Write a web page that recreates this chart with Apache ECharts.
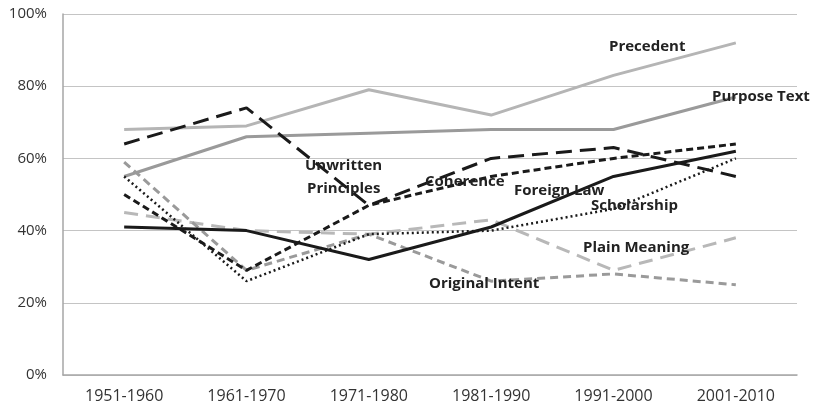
<!DOCTYPE html>
<html><head><meta charset="utf-8">
<script src="https://cdn.jsdelivr.net/npm/echarts@6/dist/echarts.min.js"></script>
<style>html,body{margin:0;padding:0;background:#fff}#c{width:814px;height:408px}</style>
</head><body><div id="c"></div>
<script>
const categories = ['1951-1960','1961-1970','1971-1980','1981-1990','1991-2000','2001-2010'];
const precedent = [68, 69, 79, 72, 83, 92];
const purposeText = [55, 66, 67, 68, 68, 77];
const unwritten = [64, 74, 47, 60, 63, 55];
const coherence = [50, 29, 47, 55, 60, 64];
const foreignLaw = [41, 40, 32, 41, 55, 62];
const scholarship = [55, 26, 39, 40, 46, 60];
const plainMeaning = [45, 40, 39, 43, 29, 38];
const originalIntent = [59, 29, 39, 26, 28, 25];
const yTicks = [0, 20, 40, 60, 80, 100];

const chart = echarts.init(document.getElementById('c'));
function s(name, data, color, width, type){
  return {name, type:'line', data, symbol:'none', silent:true,
    lineStyle:{color, width, type, cap:'butt'}, z: 2};
}
const lbl = (text, x, y) => ({type:'text', x:x, y:y, silent:true,
  style:{text, font:'bold 15px "Open Sans"', fill:'#222', verticalAlign:'middle', align:'left'}, z:10});
chart.setOption({
  animation:false,
  grid:{left:63, right:17, top:14, bottom:33},
  xAxis:{type:'category', data:categories, boundaryGap:true,
    axisLine:{lineStyle:{color:'#a6a6a6', width:1.5}}, axisTick:{show:false},
    axisLabel:{color:'#333', fontSize:16, fontFamily:'Open Sans', margin:13}},
  yAxis:{type:'value', min:0, max:100, interval:20,
    axisLine:{show:true, lineStyle:{color:'#a6a6a6', width:1.5}}, axisTick:{show:false},
    splitLine:{lineStyle:{color:'#c4c4c4', width:1.2}},
    axisLabel:{color:'#333', fontSize:15, fontFamily:'Open Sans', margin:16,
      formatter:v => yTicks.includes(v) ? v + '%' : ''}},
  series:[
    s('Precedent', precedent, '#b5b5b5', 3, 'solid'),
    s('Purpose Text', purposeText, '#9a9a9a', 3, 'solid'),
    s('Plain Meaning', plainMeaning, '#b8b8b8', 3, [14,8]),
    s('Original Intent', originalIntent, '#9a9a9a', 3, [8,5]),
    s('Unwritten Principles', unwritten, '#1a1a1a', 3, [16,8]),
    s('Coherence', coherence, '#1a1a1a', 3, [7,4]),
    s('Foreign Law', foreignLaw, '#1a1a1a', 3, 'solid'),
    s('Scholarship', scholarship, '#1a1a1a', 2.5, [2,3])
  ],
  graphic:[
    lbl('Precedent', 609, 47),
    lbl('Purpose Text', 712, 97),
    lbl('Unwritten', 305, 166),
    lbl('Principles', 307, 189),
    lbl('Coherence', 425, 182),
    lbl('Foreign Law', 514, 191),
    lbl('Scholarship', 591, 206),
    lbl('Plain Meaning', 583, 248),
    lbl('Original Intent', 429, 284)
  ]
});
</script></body></html>
